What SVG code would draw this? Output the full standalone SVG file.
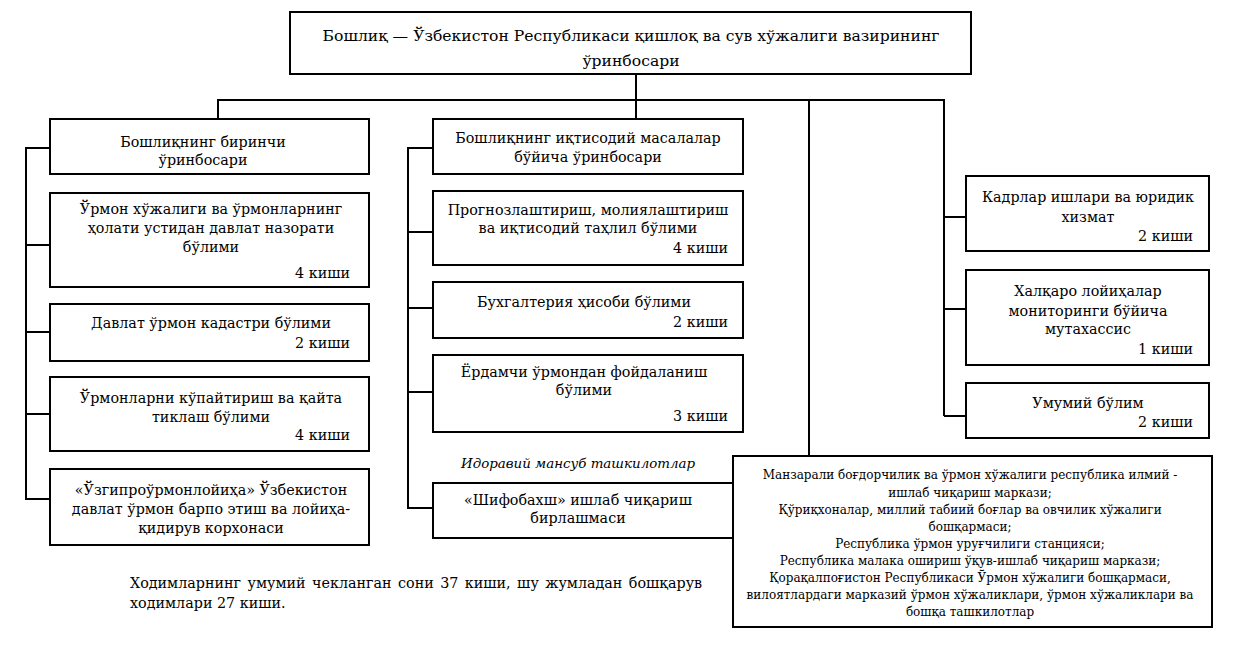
<svg xmlns="http://www.w3.org/2000/svg" width="1251" height="657" viewBox="0 0 1251 657" font-family="DejaVu Serif, serif">
<style>
rect.box{fill:#fff;stroke:#000;stroke-width:2}
.c line, .c polyline{stroke:#000;stroke-width:2;fill:none}
.t{font-size:14.3px;text-anchor:middle}
.r{font-size:14.3px;text-anchor:end}
.top{font-size:15.6px;text-anchor:middle}
.s{font-size:12px;text-anchor:middle}
.i{font-size:13.4px;font-style:italic;text-anchor:middle}
.f{font-size:14.3px}
</style>
<rect width="1251" height="657" fill="#fff"/>
<g class="c" id="connectors">
<line x1="636" y1="74" x2="636" y2="119"/>
<polyline points="218,119 218,100 944,100 944,416"/>
<line x1="809" y1="100" x2="809" y2="456"/>
<polyline points="50,148 26,148 26,499 50,499"/>
<line x1="26" y1="245" x2="50" y2="245"/>
<line x1="26" y1="332" x2="50" y2="332"/>
<line x1="26" y1="414" x2="50" y2="414"/>
<polyline points="433,148 408,148 408,508 433,508"/>
<line x1="408" y1="232" x2="433" y2="232"/>
<line x1="408" y1="308" x2="433" y2="308"/>
<line x1="408" y1="392" x2="433" y2="392"/>
<line x1="944" y1="217" x2="966" y2="217"/>
<line x1="944" y1="309" x2="966" y2="309"/>
<line x1="944" y1="416" x2="966" y2="416"/>
</g>
<g id="head">
<rect class="box" x="290" y="12" width="681" height="62"/>
<text class="top" x="631" y="41">Бошлиқ — Ўзбекистон Республикаси қишлоқ ва сув хўжалиги вазирининг</text>
<text class="top" x="631" y="66">ўринбосари</text>
</g>
<g id="first-deputy">
<rect class="box" x="50" y="119" width="319" height="55"/>
<text class="t" x="203" y="147">Бошлиқнинг биринчи</text>
<text class="t" x="203" y="165">ўринбосари</text>
</g>
<g id="forest-control">
<rect class="box" x="50" y="193" width="319" height="94"/>
<text class="t" x="211" y="214">Ўрмон хўжалиги ва ўрмонларнинг</text>
<text class="t" x="211" y="233">ҳолати устидан давлат назорати</text>
<text class="t" x="211" y="252">бўлими</text>
<text class="r" x="350" y="278">4 киши</text>
</g>
<g id="cadastre">
<rect class="box" x="50" y="304" width="319" height="57"/>
<text class="t" x="211" y="328">Давлат ўрмон кадастри бўлими</text>
<text class="r" x="350" y="348">2 киши</text>
</g>
<g id="reforestation">
<rect class="box" x="50" y="377" width="319" height="74"/>
<text class="t" x="211" y="403">Ўрмонларни кўпайтириш ва қайта</text>
<text class="t" x="211" y="422">тиклаш бўлими</text>
<text class="r" x="350" y="440">4 киши</text>
</g>
<g id="uzgiproormon">
<rect class="box" x="50" y="469" width="319" height="76"/>
<text class="t" x="211" y="495">«Ўзгипроўрмонлойиҳа» Ўзбекистон</text>
<text class="t" x="211" y="514">давлат ўрмон барпо этиш ва лойиҳа-</text>
<text class="t" x="211" y="533">қидирув корхонаси</text>
</g>
<g id="econ-deputy">
<rect class="box" x="433" y="119" width="310" height="55"/>
<text class="t" x="588" y="143">Бошлиқнинг иқтисодий масалалар</text>
<text class="t" x="588" y="162">бўйича ўринбосари</text>
</g>
<g id="forecasting">
<rect class="box" x="433" y="191" width="310" height="74"/>
<text class="t" x="588" y="215">Прогнозлаштириш, молиялаштириш</text>
<text class="t" x="588" y="233">ва иқтисодий таҳлил бўлими</text>
<text class="r" x="728" y="253">4 киши</text>
</g>
<g id="accounting">
<rect class="box" x="433" y="282" width="310" height="56"/>
<text class="t" x="584" y="307">Бухгалтерия ҳисоби бўлими</text>
<text class="r" x="728" y="327">2 киши</text>
</g>
<g id="auxiliary">
<rect class="box" x="433" y="355" width="310" height="77"/>
<text class="t" x="584" y="377">Ёрдамчи ўрмондан фойдаланиш</text>
<text class="t" x="584" y="395">бўлими</text>
<text class="r" x="728" y="421">3 киши</text>
</g>
<text class="i" x="578" y="468">Идоравий мансуб ташкилотлар</text>
<g id="shifobakhsh">
<rect class="box" x="433" y="483" width="310" height="55"/>
<text class="t" x="578" y="505">«Шифобахш» ишлаб чиқариш</text>
<text class="t" x="578" y="523">бирлашмаси</text>
</g>
<g id="hr">
<rect class="box" x="966" y="176" width="243" height="75"/>
<text class="t" x="1088" y="202">Кадрлар ишлари ва юридик</text>
<text class="t" x="1088" y="222">хизмат</text>
<text class="r" x="1193" y="241">2 киши</text>
</g>
<g id="intl-projects">
<rect class="box" x="966" y="270" width="243" height="95"/>
<text class="t" x="1088" y="296">Халқаро лойиҳалар</text>
<text class="t" x="1088" y="316">мониторинги бўйича</text>
<text class="t" x="1088" y="334">мутахассис</text>
<text class="r" x="1193" y="354">1 киши</text>
</g>
<g id="general">
<rect class="box" x="966" y="383" width="243" height="55"/>
<text class="t" x="1088" y="408">Умумий бўлим</text>
<text class="r" x="1193" y="427">2 киши</text>
</g>
<g id="subordinate">
<rect class="box" x="733" y="456" width="479" height="171"/>
<text class="s" x="970" y="479">Манзарали боғдорчилик ва ўрмон хўжалиги республика илмий  -</text>
<text class="s" x="970" y="497">ишлаб чиқариш маркази;</text>
<text class="s" x="970" y="514">Қўриқхоналар, миллий табиий боғлар ва овчилик хўжалиги</text>
<text class="s" x="970" y="531">бошқармаси;</text>
<text class="s" x="970" y="548">Республика ўрмон уруғчилиги станцияси;</text>
<text class="s" x="970" y="565">Республика малака ошириш ўқув-ишлаб чиқариш маркази;</text>
<text class="s" x="970" y="582">Қорақалпоғистон Республикаси Ўрмон хўжалиги бошқармаси,</text>
<text class="s" x="970" y="599">вилоятлардаги марказий ўрмон хўжаликлари, ўрмон хўжаликлари ва</text>
<text class="s" x="970" y="616">бошқа ташкилотлар</text>
</g>
<g id="footer">
<text class="f" x="130" y="588" word-spacing="1.9">Ходимларнинг умумий чекланган сони 37 киши, шу жумладан бошқарув</text>
<text class="f" x="130" y="608">ходимлари 27 киши.</text>
</g>
</svg>
